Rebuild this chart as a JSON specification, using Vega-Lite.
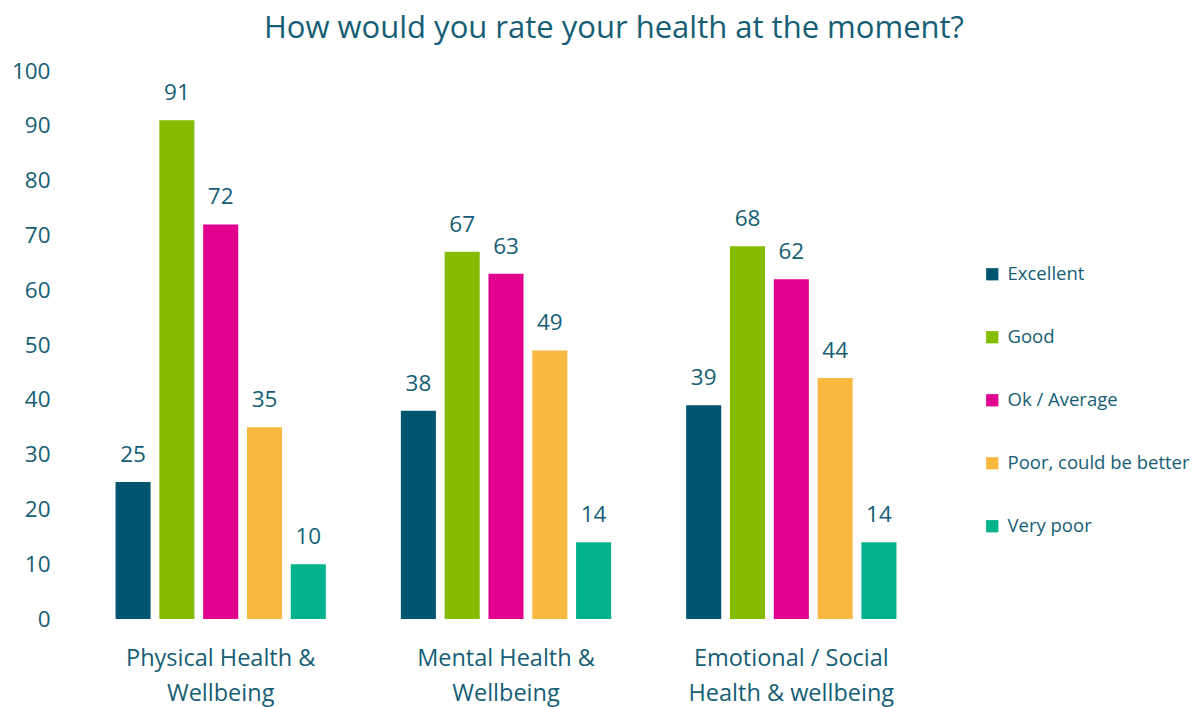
{
  "$schema": "https://vega.github.io/schema/vega-lite/v6.json",
  "width": 856,
  "height": 548,
  "autosize": "none",
  "padding": {"left": 78, "top": 71, "right": 261, "bottom": 88},
  "background": "white",
  "title": {
    "text": "How would you rate your health at the moment?",
    "fontSize": 31,
    "font": "Open Sans",
    "fontWeight": "normal",
    "color": "#155e75",
    "anchor": "middle",
    "dx": 108,
    "offset": 15
  },
  "config": {
    "view": {"stroke": null},
    "font": "Open Sans"
  },
  "data": {
    "values": [
      {"area": "Physical Health & Wellbeing", "rating": "Excellent", "value": 25},
      {"area": "Physical Health & Wellbeing", "rating": "Good", "value": 91},
      {"area": "Physical Health & Wellbeing", "rating": "Ok / Average", "value": 72},
      {"area": "Physical Health & Wellbeing", "rating": "Poor, could be better", "value": 35},
      {"area": "Physical Health & Wellbeing", "rating": "Very poor", "value": 10},
      {"area": "Mental Health & Wellbeing", "rating": "Excellent", "value": 38},
      {"area": "Mental Health & Wellbeing", "rating": "Good", "value": 67},
      {"area": "Mental Health & Wellbeing", "rating": "Ok / Average", "value": 63},
      {"area": "Mental Health & Wellbeing", "rating": "Poor, could be better", "value": 49},
      {"area": "Mental Health & Wellbeing", "rating": "Very poor", "value": 14},
      {"area": "Emotional / Social Health & wellbeing", "rating": "Excellent", "value": 39},
      {"area": "Emotional / Social Health & wellbeing", "rating": "Good", "value": 68},
      {"area": "Emotional / Social Health & wellbeing", "rating": "Ok / Average", "value": 62},
      {"area": "Emotional / Social Health & wellbeing", "rating": "Poor, could be better", "value": 44},
      {"area": "Emotional / Social Health & wellbeing", "rating": "Very poor", "value": 14}
    ]
  },
  "encoding": {
    "x": {
      "field": "area",
      "type": "nominal",
      "sort": null,
      "scale": {"paddingInner": 0.263, "paddingOuter": 0.1316},
      "axis": {
        "title": null,
        "labelAngle": 0,
        "domain": false,
        "ticks": false,
        "labelFontSize": 23.5,
        "labelColor": "#155e75",
        "labelPadding": 27,
        "labelLineHeight": 35,
        "labelLimit": 400,
        "labelExpr": "datum.label == 'Physical Health & Wellbeing' ? ['Physical Health &', 'Wellbeing'] : datum.label == 'Mental Health & Wellbeing' ? ['Mental Health &', 'Wellbeing'] : ['Emotional / Social', 'Health & wellbeing']"
      }
    },
    "xOffset": {
      "field": "rating",
      "type": "nominal",
      "sort": null,
      "scale": {"paddingInner": 0.2, "paddingOuter": 0}
    },
    "y": {
      "field": "value",
      "type": "quantitative",
      "scale": {"domain": [0, 100], "nice": false},
      "axis": {
        "title": null,
        "domain": false,
        "ticks": false,
        "grid": false,
        "values": [0, 10, 20, 30, 40, 50, 60, 70, 80, 90, 100],
        "labelFontSize": 22.5,
        "labelColor": "#155e75",
        "labelPadding": 28
      }
    }
  },
  "layer": [
    {
      "mark": {"type": "bar"},
      "encoding": {
        "color": {
          "field": "rating",
          "type": "nominal",
          "sort": null,
          "scale": {
            "domain": ["Excellent", "Good", "Ok / Average", "Poor, could be better", "Very poor"],
            "range": ["#00556f", "#86bc00", "#e2008f", "#f9b840", "#00b38c"]
          },
          "legend": {
            "title": null,
            "orient": "none",
            "legendX": 905,
            "legendY": 194,
            "padding": 0,
            "symbolType": "square",
            "symbolSize": 150,
            "symbolStrokeWidth": 0,
            "symbolOpacity": 1,
            "labelFontSize": 18.5,
            "labelColor": "#155e75",
            "labelOffset": 6,
            "rowPadding": 44,
            "labelLimit": 300
          }
        }
      }
    },
    {
      "mark": {"type": "text", "baseline": "bottom", "dy": -15, "fontSize": 22.5, "color": "#155e75"},
      "encoding": {
        "text": {"field": "value", "type": "quantitative"}
      }
    }
  ]
}
